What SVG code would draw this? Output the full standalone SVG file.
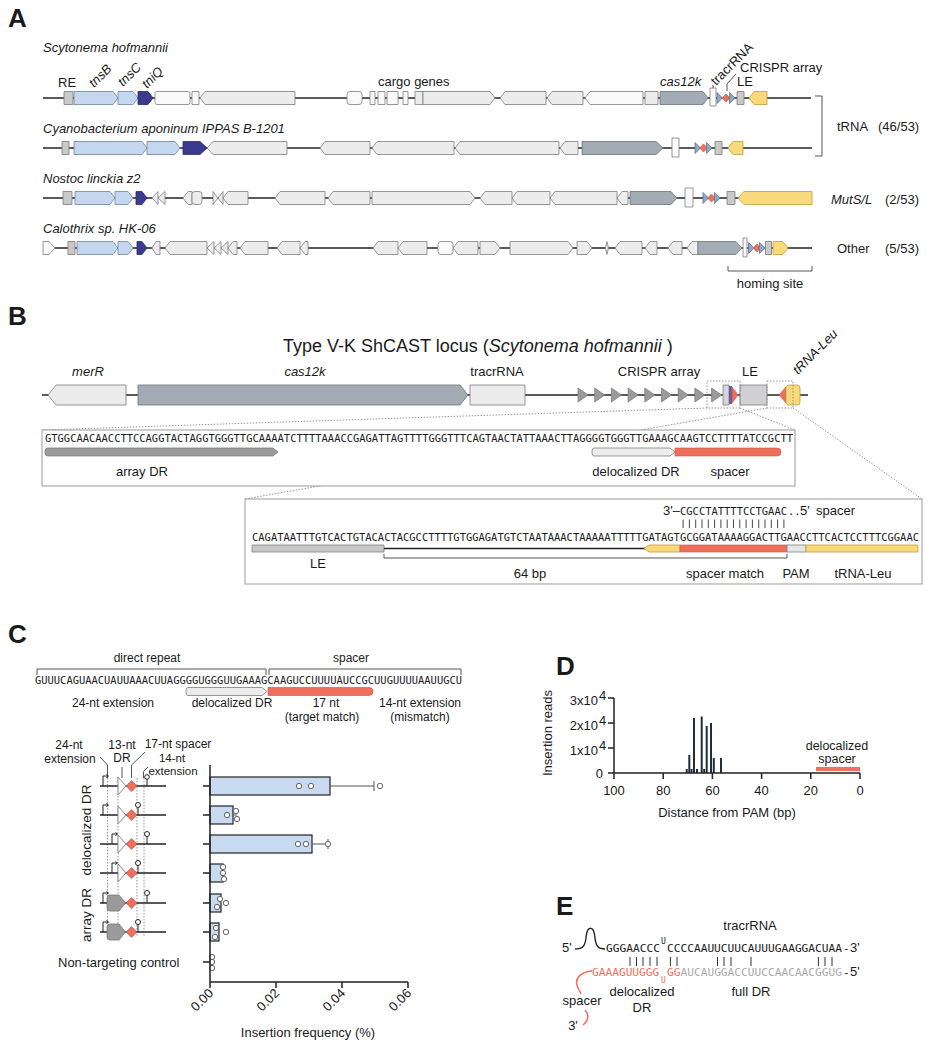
<svg xmlns="http://www.w3.org/2000/svg" width="929" height="1050" viewBox="0 0 929 1050">
<defs>
<style>
text{font-family:"Liberation Sans",Arial,sans-serif;fill:#1a1a1a;font-size:13px}
.i{font-style:italic}
.m{font-family:"DejaVu Sans Mono","Liberation Mono",monospace;font-size:10.4px}
.L{font-size:26px;font-weight:bold}
.c{text-anchor:middle}
.e{text-anchor:end}
.g{stroke:#7d7d7d;stroke-width:0.8;stroke-linejoin:round}
.lg{fill:#ececec}
.wh{fill:#fafafa}
.bl{fill:#c5d7ee;stroke:#6f82a3}
.db{fill:#3c3a8c;stroke:#2a2870}
.cg{fill:#a3acb4;stroke:#6b747c}
.gy{fill:#c9c9c9}
.ye{fill:#f8d97c;stroke:#c39c3a}
.rd{fill:#ef6f5d;stroke:#c9513f;stroke-width:0.6}
.tb{fill:#8ea8c9;stroke:#5d7596}
.ln{stroke:#222;stroke-width:1.4;fill:none}
.br{stroke:#555;stroke-width:1;fill:none}
.dt{stroke:#8a8a8a;stroke-width:0.9;stroke-dasharray:1.5 1.5;fill:none}
.bar{fill:#c8daf0;stroke:#222;stroke-width:1.2}
.dot{fill:#fff;stroke:#555;stroke-width:0.9}
.hb{stroke:#1f2d3d;stroke-width:2}
</style>
</defs>
<rect width="929" height="1050" fill="#fff"/>

<!-- PANEL A -->
<g id="panelA">
<text class="L" x="8" y="27">A</text>
<text class="i" x="43" y="52">Scytonema hofmannii</text>
<text class="i" x="43" y="133">Cyanobacterium aponinum IPPAS B-1201</text>
<text class="i" x="43" y="183">Nostoc linckia z2</text>
<text class="i" x="43" y="233">Calothrix sp. HK-06</text>
<text x="58" y="87">RE</text>
<text class="i" transform="translate(94,88) rotate(-45)">tnsB</text>
<text class="i" transform="translate(123,87) rotate(-45)">tnsC</text>
<text class="i" transform="translate(147,89) rotate(-45)">tniQ</text>
<text x="378" y="86">cargo genes</text>
<text class="i" x="660" y="86">cas12k</text>
<text transform="translate(716,86) rotate(-45)">tracrRNA</text>
<text x="740" y="72">CRISPR array</text>
<text x="737" y="86">LE</text>
<path class="br" d="M713,85 V88 M727,91 V84 L736,74"/>
<text x="837" y="131">tRNA</text><text x="878" y="131">(46/53)</text>
<text class="i" x="831" y="204">MutS/L</text><text x="885" y="204">(2/53)</text>
<text x="837" y="253">Other</text><text x="885" y="253">(5/53)</text>
<path class="br" d="M815,96 H822 V156 H815"/>
<path class="br" d="M728,266 V271 H812 V266"/>
<text class="c" x="770" y="288">homing site</text>
</g>

<g id="trackA1">
<line class="ln" x1="43" y1="98" x2="811" y2="98"/>
<rect x="64" y="91.5" width="9" height="13" class="g gy"/>
<polygon class="g bl" points="74,91.5 113,91.5 118,98 113,104.5 74,104.5"/>
<polygon class="g bl" points="118,91.5 133,91.5 138,98 133,104.5 118,104.5"/>
<polygon class="g db" points="138,91.5 148,91.5 153,98 148,104.5 138,104.5"/>
<rect x="155" y="91.5" width="35" height="13" rx="2" class="g wh"/>
<rect x="192" y="91.5" width="7" height="13" class="g wh"/>
<polygon class="g lg" points="200,98 205,91.5 295,91.5 295,104.5 205,104.5"/>
<rect x="347" y="91.5" width="15" height="13" rx="3" class="g wh"/>
<rect x="370" y="91.5" width="5" height="13" class="g wh"/>
<rect x="378" y="91.5" width="7" height="13" class="g wh"/>
<rect x="387" y="91.5" width="11" height="13" class="g wh"/>
<rect x="403" y="91.5" width="5" height="13" class="g wh"/>
<rect x="415" y="91.5" width="8" height="13" class="g lg"/>
<polygon class="g lg" points="423,91.5 490,91.5 495,98 490,104.5 423,104.5"/>
<polygon class="g lg" points="500,98 505,91.5 546,91.5 546,104.5 505,104.5"/>
<polygon class="g lg" points="547,98 552,91.5 583,91.5 583,104.5 552,104.5"/>
<polygon class="g wh" points="585,98 590,91.5 643,91.5 643,104.5 590,104.5"/>
<rect x="645" y="91.5" width="13" height="13" class="g lg"/>
<polygon class="g cg" points="660,91.5 703,91.5 708,98 703,104.5 660,104.5"/>
<rect x="710" y="88" width="6" height="18" class="g wh"/>
<polygon class="g tb" points="717,92.5 717,103.5 722.5,98"/>
<polygon class="rd" points="726,94 730,98 726,102 722,98"/>
<polygon class="g tb" points="729.5,92.5 729.5,103.5 735,98"/>
<rect x="737" y="91.5" width="7" height="13" class="g gy"/>
<polygon class="g ye" points="749,98 754,91.5 767,91.5 767,104.5 754,104.5"/>
</g>

<g id="trackA2">
<line class="ln" x1="43" y1="148" x2="812" y2="148"/>
<rect x="62" y="141.5" width="7" height="13" class="g gy"/>
<polygon class="g bl" points="74,141.5 142,141.5 147,148 142,154.5 74,154.5"/>
<polygon class="g bl" points="147,141.5 175,141.5 180,148 175,154.5 147,154.5"/>
<polygon class="g db" points="183,141.5 200,141.5 207,148 200,154.5 183,154.5"/>
<polygon class="g lg" points="207,148 213,141.5 287,141.5 287,154.5 213,154.5"/>
<polygon class="g lg" points="320,148 325,141.5 370,141.5 370,154.5 325,154.5"/>
<polygon class="g lg" points="372,148 377,141.5 454,141.5 454,154.5 377,154.5"/>
<polygon class="g lg" points="455,148 460,141.5 559,141.5 559,154.5 460,154.5"/>
<polygon class="g lg" points="560,148 565,141.5 578,141.5 578,154.5 565,154.5"/>
<polygon class="g cg" points="582,141.5 656,141.5 663,148 656,154.5 582,154.5"/>
<rect x="672" y="138" width="7" height="19" class="g wh"/>
<polygon class="g tb" points="695,142.5 695,153.5 700.5,148"/>
<polygon class="rd" points="703.5,144 707.5,148 703.5,152 699.5,148"/>
<polygon class="g tb" points="706.5,142.5 706.5,153.5 712,148"/>
<rect x="715" y="141.5" width="7" height="13" class="g gy"/>
<polygon class="g ye" points="728,148 733,141.5 743,141.5 743,154.5 733,154.5"/>
</g>

<g id="trackA3">
<line class="ln" x1="43" y1="198" x2="812" y2="198"/>
<rect x="63" y="191.5" width="9" height="13" class="g gy"/>
<polygon class="g bl" points="75,191.5 110,191.5 115,198 110,204.5 75,204.5"/>
<polygon class="g bl" points="115,191.5 128,191.5 133,198 128,204.5 115,204.5"/>
<polygon class="g db" points="136,191.5 142,191.5 147,198 142,204.5 136,204.5"/>
<polygon class="g lg" points="152,198 158,191.5 158,204.5"/>
<polygon class="g lg" points="158,198 165,191.5 165,204.5"/>
<polygon class="g lg" points="183,198 188,191.5 192,191.5 192,204.5 188,204.5"/>
<rect x="192" y="191.5" width="10" height="13" rx="3" class="g lg"/>
<polygon class="g lg" points="213,191.5 213,204.5 218,198"/>
<polygon class="g lg" points="218,198 223,191.5 223,204.5"/>
<polygon class="g lg" points="223,198 228,191.5 248,191.5 248,204.5 228,204.5"/>
<polygon class="g lg" points="275,198 280,191.5 325,191.5 325,204.5 280,204.5"/>
<polygon class="g lg" points="328,198 333,191.5 370,191.5 370,204.5 333,204.5"/>
<polygon class="g lg" points="372,191.5 470,191.5 475,198 470,204.5 372,204.5"/>
<polygon class="g lg" points="480,198 485,191.5 512,191.5 512,204.5 485,204.5"/>
<polygon class="g lg" points="512,198 517,191.5 550,191.5 550,204.5 517,204.5"/>
<polygon class="g lg" points="550,198 555,191.5 617,191.5 617,204.5 555,204.5"/>
<polygon class="g lg" points="617,198 622,191.5 628,191.5 628,204.5 622,204.5"/>
<polygon class="g cg" points="630,191.5 671,191.5 677,198 671,204.5 630,204.5"/>
<rect x="685" y="188" width="8" height="19" class="g wh"/>
<polygon class="g tb" points="703,192.5 703,203.5 708.5,198"/>
<polygon class="rd" points="711.5,194 715.5,198 711.5,202 707.5,198"/>
<polygon class="g tb" points="714.5,192.5 714.5,203.5 720,198"/>
<rect x="727" y="191.5" width="8" height="13" class="g gy"/>
<polygon class="g ye" points="738,198 744,191.5 812,191.5 812,204.5 744,204.5"/>
</g>

<g id="trackA4">
<line class="ln" x1="43" y1="248" x2="812" y2="248"/>
<polygon class="g wh" points="43,241.5 49,241.5 55,248 49,254.5 43,254.5"/>
<rect x="68" y="241.5" width="7" height="13" class="g gy"/>
<polygon class="g bl" points="77,241.5 113,241.5 118,248 113,254.5 77,254.5"/>
<polygon class="g bl" points="118,241.5 128,241.5 133,248 128,254.5 118,254.5"/>
<polygon class="g db" points="137,241.5 142,241.5 147,248 142,254.5 137,254.5"/>
<polygon class="g lg" points="152,248 156,241.5 160,241.5 160,254.5 156,254.5"/>
<polygon class="g lg" points="165,248 170,241.5 207,241.5 207,254.5 170,254.5"/>
<polygon class="g lg" points="207,248 214,241.5 214,254.5"/>
<polygon class="g lg" points="214,248 221,241.5 221,254.5"/>
<polygon class="g lg" points="221,248 228,241.5 228,254.5"/>
<polygon class="g lg" points="228,248 233,241.5 237,241.5 237,254.5 233,254.5"/>
<polygon class="g lg" points="240,248 245,241.5 268,241.5 268,254.5 245,254.5"/>
<polygon class="g lg" points="277,248 282,241.5 300,241.5 300,254.5 282,254.5"/>
<polygon class="g lg" points="300,248 305,241.5 308,241.5 308,254.5 305,254.5"/>
<polygon class="g lg" points="373,248 378,241.5 398,241.5 398,254.5 378,254.5"/>
<polygon class="g lg" points="398,248 403,241.5 427,241.5 427,254.5 403,254.5"/>
<rect x="438" y="241.5" width="15" height="13" rx="3" class="g wh"/>
<polygon class="g lg" points="453,248 458,241.5 478,241.5 478,254.5 458,254.5"/>
<polygon class="g lg" points="480,241.5 495,241.5 500,248 495,254.5 480,254.5"/>
<polygon class="g lg" points="510,241.5 568,241.5 573,248 568,254.5 510,254.5"/>
<polygon class="g lg" points="577,241.5 587,241.5 592,248 587,254.5 577,254.5"/>
<polygon class="g lg" points="605.5,248 607,241.5 608.5,248 607,254.5"/>
<polygon class="g lg" points="615,248 620,241.5 642,241.5 642,254.5 620,254.5"/>
<polygon class="g lg" points="645,248 650,241.5 657,241.5 657,254.5 650,254.5"/>
<polygon class="g lg" points="668,248 673,241.5 682,241.5 682,254.5 673,254.5"/>
<polygon class="g lg" points="687,248 692,241.5 698,241.5 698,254.5 692,254.5"/>
<polygon class="g cg" points="698,241.5 736,241.5 742,248 736,254.5 698,254.5"/>
<rect x="743" y="238" width="4" height="19" class="g wh"/>
<polygon class="g tb" points="748.5,242.5 748.5,253.5 754,248"/>
<polygon class="rd" points="757,244 761,248 757,252 753,248"/>
<polygon class="g tb" points="759.5,242.5 759.5,253.5 765,248"/>
<rect x="765.5" y="241.5" width="6" height="13" class="g gy"/>
<polygon class="g ye" points="773,241.5 783,241.5 788,248 783,254.5 773,254.5"/>
</g>

<!-- PANEL B -->
<g id="panelB">
<text class="L" x="8" y="325">B</text>
<text x="283" y="352" style="font-size:18px">Type V-K ShCAST locus (<tspan class="i">Scytonema hofmannii</tspan> )</text>
<text class="i c" x="88" y="376">merR</text>
<text class="i c" x="305" y="376">cas12k</text>
<text class="c" x="497" y="376">tracrRNA</text>
<text class="c" x="659" y="376">CRISPR array</text>
<text class="c" x="750" y="376">LE</text>
<text class="i" transform="translate(798,375) rotate(-45)">tRNA-Leu</text>
</g>

<g id="locusB">
<line class="ln" x1="42" y1="395" x2="808" y2="395"/>
<polygon class="g lg" points="48,395 56,385 126,385 126,405 56,405"/>
<polygon class="g cg" points="138,385 460,385 468,395 460,405 138,405"/>
<rect x="470" y="385" width="55" height="20" class="g lg"/>
<g class="g" fill="#9a9a9a" stroke="#6f6f6f">
<polygon points="578,388 578,402 588,395"/>
<polygon points="594.7,388 594.7,402 604.7,395"/>
<polygon points="611.4,388 611.4,402 621.4,395"/>
<polygon points="628.1,388 628.1,402 638.1,395"/>
<polygon points="644.8,388 644.8,402 654.8,395"/>
<polygon points="661.5,388 661.5,402 671.5,395"/>
<polygon points="678.2,388 678.2,402 688.2,395"/>
<polygon points="694.9,388 694.9,402 704.9,395"/>
<polygon points="711.6,388 711.6,402 721.6,395"/>
</g>
<rect x="723" y="385" width="6" height="20" class="g" fill="#d6d6d8"/>
<rect x="729" y="386" width="3" height="18" fill="#6a5aa5"/>
<polygon class="rd" points="732,387 732,403 738,395"/>
<rect x="740" y="385" width="27" height="20" class="g" fill="#d0d0d3"/>
<polygon class="rd" points="779,395 786,387 786,403"/>
<rect x="786" y="385" width="14" height="20" rx="3" class="g ye"/>
<rect class="dt" x="707" y="381" width="33" height="27"/>
<rect class="dt" x="767" y="381" width="26" height="27"/>
</g>

<g id="connectorsB">
<line class="dt" x1="707" y1="408" x2="42" y2="430"/>
<line class="dt" x1="740" y1="408" x2="795" y2="430"/>
<line class="dt" x1="767" y1="408" x2="245" y2="499"/>
<line class="dt" x1="793" y1="408" x2="922" y2="499"/>
</g>

<g id="box1">
<rect x="42" y="430" width="753" height="56" fill="#fff" stroke="#999" stroke-width="1"/>
<text class="m" x="45" y="442" textLength="748" lengthAdjust="spacingAndGlyphs">GTGGCAACAACCTTCCAGGTACTAGGTGGGTTGCAAAATCTTTTAAACCGAGATTAGTTTTGGGTTTCAGTAACTATTAAACTTAGGGGTGGGTTGAAAGCAAGTCCTTTTATCCGCTT</text>
<path class="g" fill="#9a9a9a" stroke="#707070" d="M48,448 H273 L278,452 L273,456 H48 Q45,456 45,453 V451 Q45,448 48,448 Z"/>
<path class="g" fill="#ececec" d="M594,448 H670 L675,452 L670,456 H594 Q592,456 592,453 V451 Q592,448 594,448 Z"/>
<path class="rd" d="M675,448 H777 Q781,448 781,452 Q781,456 777,456 H675 Z"/>
<text class="c" x="142" y="476">array DR</text>
<text class="c" x="636" y="476">delocalized DR</text>
<text class="c" x="730" y="476">spacer</text>
</g>

<g id="box2">
<rect x="245" y="499" width="677" height="85" fill="#fff" stroke="#999" stroke-width="1"/>
<text class="e" x="680" y="515">3'–</text>
<text class="m" x="680" y="515" textLength="107" lengthAdjust="spacingAndGlyphs">CGCCTATTTTCCTGAAC</text>
<text class="m" x="788" y="515">..</text>
<text x="800" y="515">5'</text>
<text x="816" y="515">spacer</text>
<path stroke="#333" stroke-width="0.9" d="M683.1,519.5 V528 M689.4,519.5 V528 M695.7,519.5 V528 M702,519.5 V528 M708.3,519.5 V528 M714.6,519.5 V528 M720.9,519.5 V528 M727.2,519.5 V528 M733.5,519.5 V528 M739.8,519.5 V528 M746.1,519.5 V528 M752.4,519.5 V528 M758.7,519.5 V528 M765,519.5 V528 M771.3,519.5 V528 M777.6,519.5 V528 M783.9,519.5 V528"/>
<text class="m" x="252" y="541" textLength="667" lengthAdjust="spacingAndGlyphs">CAGATAATTTGTCACTGTACACTACGCCTTTTGTGGAGATGTCTAATAAACTAAAAATTTTTGATAGTGCGGATAAAAGGACTTGAACCTTCACTCCTTTCGGAAC</text>
<rect x="252" y="545" width="132" height="7" class="g" fill="#c8c8c8"/>
<line class="ln" x1="384" y1="548.5" x2="646" y2="548.5"/>
<polygon class="g ye" points="644,548.5 649,545 680,545 680,552 649,552"/>
<rect x="680" y="545" width="107" height="7" class="rd"/>
<rect x="787" y="545" width="19" height="7" class="g" fill="#e4e6ea"/>
<rect x="806" y="545" width="112" height="7" class="g ye"/>
<path class="br" d="M384,554 V558 H787 V554"/>
<text class="c" x="318" y="568">LE</text>
<text class="c" x="530" y="578">64 bp</text>
<text class="c" x="725" y="578">spacer match</text>
<text class="c" x="796" y="578">PAM</text>
<text class="c" x="863" y="578">tRNA-Leu</text>
</g>

<!-- PANEL C -->
<g id="panelC-seq">
<text class="L" x="8" y="643">C</text>
<text class="c" x="147" y="662" style="font-size:12px">direct repeat</text>
<text class="c" x="351" y="662" style="font-size:12px">spacer</text>
<path class="br" d="M37,675 V669 H266 V675 M269,675 V669 H461 V675"/>
<text class="m" x="35" y="684" textLength="427" lengthAdjust="spacingAndGlyphs">GUUUCAGUAACUAUUAAACUUAGGGGUGGGUUGAAAGCAAGUCCUUUUAUCCGCUUGUUUUAAUUGCU</text>
<path class="g" fill="#ececec" d="M188,687.5 H262 L267,691.5 L262,695.5 H188 Q186,695.5 186,692.5 V690.5 Q186,687.5 188,687.5 Z"/>
<path class="rd" d="M268,687.5 H369 Q373,687.5 373,691.5 Q373,695.5 369,695.5 H268 Z"/>
<text class="c" x="113" y="707" style="font-size:12px">24-nt extension</text>
<text class="c" x="232" y="707" style="font-size:12px">delocalized DR</text>
<text class="c" x="326" y="707" style="font-size:12px">17 nt</text>
<text class="c" x="322" y="721" style="font-size:12px">(target match)</text>
<text class="c" x="420" y="707" style="font-size:12px">14-nt extension</text>
<text class="c" x="420" y="721" style="font-size:12px">(mismatch)</text>
</g>

<g id="panelC-constructs">
<text class="c" x="69" y="749" style="font-size:12px">24-nt</text>
<text class="c" x="70" y="763" style="font-size:12px">extension</text>
<text class="c" x="122" y="749" style="font-size:12px">13-nt</text>
<text class="c" x="122" y="762" style="font-size:12px">DR</text>
<text class="c" x="178" y="748" style="font-size:12px">17-nt spacer</text>
<text class="c" x="172" y="762" style="font-size:11.5px">14-nt</text>
<text class="c" x="173" y="774.5" style="font-size:11.5px">extension</text>
<path class="br" stroke="#333" d="M100,757 L107.5,765 V778 M122,767 V778 M145,752 L131.5,765 V778 M148,767 L143.5,771.5 V778"/>
<path class="dt" d="M107.5,778 V936 M118,778 V936 M137,778 V936 M144,778 V936"/>
<text class="c" transform="translate(91,830) rotate(-90)" style="font-size:13.5px">delocalized DR</text>
<text class="c" transform="translate(91,915) rotate(-90)" style="font-size:13.5px">array DR</text>
<text x="58" y="967">Non-targeting control</text>
<g stroke="#222" stroke-width="1.5">
<line x1="100" y1="786" x2="166" y2="786"/>
<line x1="100" y1="815" x2="166" y2="815"/>
<line x1="100" y1="844" x2="166" y2="844"/>
<line x1="100" y1="873" x2="166" y2="873"/>
<line x1="100" y1="903" x2="166" y2="903"/>
<line x1="100" y1="932" x2="166" y2="932"/>
</g>
<g fill="none" stroke="#222" stroke-width="1">
<path d="M103,786 V776 H108 M106.5,774.5 L108.5,776 L106.5,777.5"/>
<path d="M103,815 V805 H108 M106.5,803.5 L108.5,805 L106.5,806.5"/>
<path d="M112,844 V834 H117 M115.5,832.5 L117.5,834 L115.5,835.5"/>
<path d="M112,873 V863 H117 M115.5,861.5 L117.5,863 L115.5,864.5"/>
<path d="M103,903 V893 H108 M106.5,891.5 L108.5,893 L106.5,894.5"/>
<path d="M103,932 V922 H108 M106.5,920.5 L108.5,922 L106.5,923.5"/>
</g>
<g fill="#fff" stroke="#8a8a8a" stroke-width="1">
<polygon points="118,777 118,795 126,786"/>
<polygon points="118,806 118,824 126,815"/>
<polygon points="118,835 118,853 126,844"/>
<polygon points="118,864 118,882 126,873"/>
</g>
<g fill="#9a9a9a" stroke="#777" stroke-width="0.8">
<path d="M110,895 H119 L125.5,903 L119,911 H110 Q107,911 107,908 V898 Q107,895 110,895 Z"/>
<path d="M110,924 H119 L125.5,932 L119,940 H110 Q107,940 107,937 V927 Q107,924 110,924 Z"/>
</g>
<g class="rd">
<polygon points="131.5,780.5 137,786 131.5,791.5 126,786"/>
<polygon points="131.5,809.5 137,815 131.5,820.5 126,815"/>
<polygon points="131.5,838.5 137,844 131.5,849.5 126,844"/>
<polygon points="131.5,867.5 137,873 131.5,878.5 126,873"/>
<polygon points="131.5,897.5 137,903 131.5,908.5 126,903"/>
<polygon points="131.5,926.5 137,932 131.5,937.5 126,932"/>
</g>
<g fill="#fff" stroke="#222" stroke-width="1">
<path d="M147,786 V779 M138,815 V807.5 M147,844 V836.5 M138,873 V865.5 M147,903 V895.5 M138,932 V924.5"/>
<circle cx="147" cy="777" r="2.3"/>
<circle cx="138" cy="805" r="2.5"/>
<circle cx="147" cy="834" r="2.5"/>
<circle cx="138" cy="863" r="2.5"/>
<circle cx="147" cy="893" r="2.5"/>
<circle cx="138" cy="922" r="2.5"/>
</g>
</g>

<g id="panelC-chart">
<rect class="bar" x="210" y="777" width="120" height="18"/>
<rect class="bar" x="210" y="806" width="23" height="18"/>
<rect class="bar" x="210" y="835" width="102" height="18"/>
<rect class="bar" x="210" y="864" width="13" height="18"/>
<rect class="bar" x="210" y="894" width="11" height="18"/>
<rect class="bar" x="210" y="923" width="9" height="18"/>
<path stroke="#555" stroke-width="1" fill="none" d="M330,786 H374 M374,781 V791 M312,844 H328 M328,839 V849 M233,815 H237"/>
<circle class="dot" cx="299" cy="786" r="2.7"/>
<circle class="dot" cx="311" cy="786" r="2.7"/>
<circle class="dot" cx="380" cy="786" r="2.7"/>
<circle class="dot" cx="227" cy="815" r="2.7"/>
<circle class="dot" cx="236" cy="811" r="2.7"/>
<circle class="dot" cx="237" cy="819" r="2.7"/>
<circle class="dot" cx="298" cy="844" r="2.7"/>
<circle class="dot" cx="306" cy="844" r="2.7"/>
<circle class="dot" cx="328" cy="844" r="2.7"/>
<circle class="dot" cx="223" cy="867" r="2.7"/>
<circle class="dot" cx="223" cy="873" r="2.7"/>
<circle class="dot" cx="224" cy="879" r="2.7"/>
<circle class="dot" cx="220" cy="899" r="2.7"/>
<circle class="dot" cx="226" cy="903" r="2.7"/>
<circle class="dot" cx="217" cy="907" r="2.7"/>
<circle class="dot" cx="216" cy="928" r="2.7"/>
<circle class="dot" cx="215" cy="937" r="2.7"/>
<circle class="dot" cx="226" cy="932" r="2.7"/>
<circle class="dot" cx="212" cy="957" r="2.7"/>
<circle class="dot" cx="212" cy="962" r="2.7"/>
<circle class="dot" cx="212" cy="968" r="2.7"/>
<path stroke="#222" stroke-width="1.5" fill="none" d="M210,765 V982 H408 M203,786 H210 M203,815 H210 M203,844 H210 M203,873 H210 M203,903 H210 M203,932 H210 M203,962 H210 M210,982 V988 M276,982 V988 M342,982 V988 M408,982 V988"/>
<text class="e" transform="translate(214,994) rotate(-45)">0.00</text>
<text class="e" transform="translate(280,994) rotate(-45)">0.02</text>
<text class="e" transform="translate(346,994) rotate(-45)">0.04</text>
<text class="e" transform="translate(412,994) rotate(-45)">0.06</text>
<text class="c" x="308" y="1037">Insertion frequency (%)</text>
</g>

<!-- PANEL D -->
<g id="panelD">
<text class="L" x="556" y="675">D</text>
<g class="hb">
<line x1="686.7" y1="773" x2="686.7" y2="769"/>
<line x1="689.3" y1="773" x2="689.3" y2="755"/>
<line x1="691.5" y1="773" x2="691.5" y2="769"/>
<line x1="694" y1="773" x2="694" y2="718"/>
<line x1="697" y1="773" x2="697" y2="769"/>
<line x1="701.7" y1="773" x2="701.7" y2="716.5"/>
<line x1="704.2" y1="773" x2="704.2" y2="769"/>
<line x1="706.7" y1="773" x2="706.7" y2="726"/>
<line x1="711" y1="773" x2="711" y2="723"/>
<line x1="713.8" y1="773" x2="713.8" y2="758"/>
<line x1="721" y1="773" x2="721" y2="758"/>
</g>
<rect x="816" y="767" width="44" height="4" fill="#ef6f5d"/>
<path stroke="#222" stroke-width="1.5" fill="none" d="M614,698 V773 H860 M608,698 H614 M608,723 H614 M608,748 H614 M608,773 H614 M614,773 V779 M663.2,773 V779 M712.4,773 V779 M761.6,773 V779 M810.8,773 V779 M860,773 V779"/>
<text class="e" x="598" y="705">3x10</text><text x="599" y="700">4</text>
<text class="e" x="598" y="730">2x10</text><text x="599" y="725">4</text>
<text class="e" x="598" y="755">1x10</text><text x="599" y="750">4</text>
<text class="e" x="603" y="778">0</text>
<text class="c" x="614" y="795">100</text>
<text class="c" x="663.2" y="795">80</text>
<text class="c" x="712.4" y="795">60</text>
<text class="c" x="761.6" y="795">40</text>
<text class="c" x="810.8" y="795">20</text>
<text class="c" x="860" y="795">0</text>
<text class="c" x="837" y="750" style="font-size:12.5px">delocalized</text>
<text class="c" x="837" y="763" style="font-size:12.5px">spacer</text>
<text class="c" transform="translate(552,733) rotate(-90)">Insertion reads</text>
<text class="c" x="727" y="817">Distance from PAM (bp)</text>
</g>

<!-- PANEL E -->
<g id="panelE">
<text class="L" x="556" y="915">E</text>
<text class="c" x="750" y="930">tracrRNA</text>
<text x="562" y="952">5'</text>
<path d="M575,949 C583,949 585,946 586,938 C587,925 594,925 595,938 C596,946 598,949 605,949" fill="none" stroke="#222" stroke-width="1.4"/>
<text class="m" x="606" y="952" style="font-size:11px" textLength="54" lengthAdjust="spacingAndGlyphs">GGGAACCC</text>
<text class="m" x="661" y="944" style="font-size:8px">U</text>
<text class="m" x="667" y="952" style="font-size:11px" textLength="175" lengthAdjust="spacingAndGlyphs">CCCCAAUUCUUCAUUUGAAGGACUAA</text>
<text class="m" x="843" y="952" style="font-size:11px">-</text><text x="850" y="952">3'</text>
<path stroke="#333" stroke-width="1" d="M630,957 V966 M636.5,957 V966 M643,957 V966 M650,957 V966 M657,957 V966 M670.4,957 V966 M677,957 V966 M717.5,957 V966 M724,957 V966 M731,957 V966 M751,957 V966 M818.4,957 V966 M825,957 V966 M832,957 V966"/>
<text class="m" x="592" y="976" style="font-size:11px;fill:#ef6f5d" textLength="67.3" lengthAdjust="spacingAndGlyphs">GAAAGUUGGG</text>
<text class="m" x="661" y="983" style="font-size:8px;fill:#ef6f5d">U</text>
<text class="m" x="667" y="976" style="font-size:11px;fill:#ef6f5d" textLength="13.5" lengthAdjust="spacingAndGlyphs">GG</text>
<text class="m" x="680.5" y="976" style="font-size:11px;fill:#aaaaaa" textLength="161.5" lengthAdjust="spacingAndGlyphs">AUCAUGGACCUUCCAACAACGGUG</text>
<text class="m" x="843" y="976" style="font-size:11px">-</text><text x="850" y="976">5'</text>
<path d="M592,971 C580,972 575,979 577,985 C578,989 580,991 581,994 M585,1010 C589,1014 589,1020 583,1025" fill="none" stroke="#ef6f5d" stroke-width="1.5"/>
<text class="c" x="642" y="996">delocalized</text>
<text class="c" x="642" y="1012">DR</text>
<text class="c" x="751" y="996">full DR</text>
<text class="c" x="582" y="1005">spacer</text>
<text class="c" x="573" y="1030">3'</text>
</g>
</svg>
